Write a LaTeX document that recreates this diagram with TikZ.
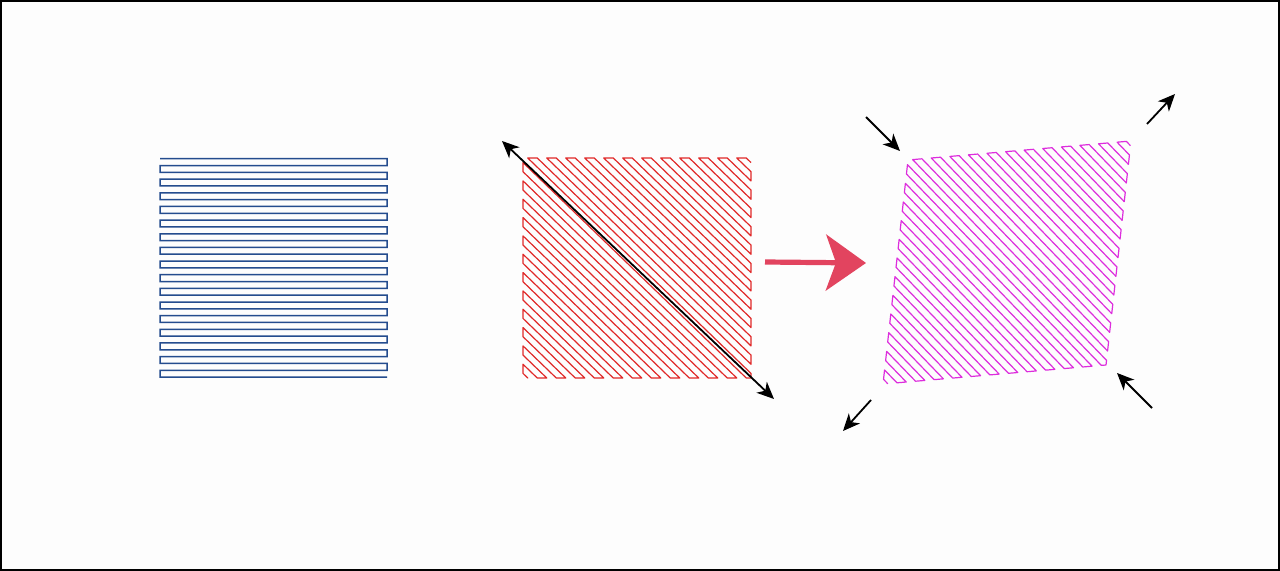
\documentclass[tikz,border=0pt]{standalone}
\usetikzlibrary{arrows.meta}
\definecolor{bgc}{HTML}{FDFDFD}
\definecolor{serpblue}{HTML}{244C8E}
\definecolor{hatchredc}{HTML}{E02828}
\definecolor{hatchmagc}{HTML}{DD2EDD}
\definecolor{bigarrowc}{HTML}{E2445F}
\newcommand\serphatch[1]{%
  \draw[#1] (0.5/24,1)
   \foreach \j [evaluate=\j as \ca using (2*\j+0.5)/24, evaluate=\j as \cb using (2*\j+1.5)/24] in {-12,...,-1}
    { -- ({min(1,1+(\ca))},{min(1,1-(\ca))}) -- ({max(\ca,0)},{max(-1*(\ca),0)})
      -- ({max(\cb,0)},{max(-1*(\cb),0)}) -- ({min(1,1+(\cb))},{min(1,1-(\cb))}) }
   -- (1,1)
   \foreach \j [evaluate=\j as \ca using (2*\j+0.5)/24, evaluate=\j as \cb using (2*\j+1.5)/24] in {0,...,11}
    { -- ({min(1,1+(\ca))},{min(1,1-(\ca))}) -- ({max(\ca,0)},{max(-1*(\ca),0)})
      -- ({max(\cb,0)},{max(-1*(\cb),0)}) -- ({min(1,1+(\cb))},{min(1,1-(\cb))}) };
}
\tikzset{
  serpline/.style={draw=serpblue, line width=0.75pt, line join=miter},
  hatchred/.style={draw=hatchredc, line width=0.6pt, line join=round},
  hatchmag/.style={draw=hatchmagc, line width=0.6pt, line join=round},
  blkarrow/.style={draw=black, line width=0.9pt, -{Stealth[length=8.5pt,width=7.5pt,inset=2.5pt]}},
  blkdouble/.style={draw=black, line width=0.9pt, {Stealth[length=8.5pt,width=7.5pt,inset=2.5pt]}-{Stealth[length=8.5pt,width=7.5pt,inset=2.5pt]}},
  bigarrow/.style={draw=bigarrowc, line width=2.6pt, -{Stealth[length=20pt,width=28pt,inset=5pt]}}
}
\begin{document}
\begin{tikzpicture}[x=0.5pt,y=-0.5pt]
  \useasboundingbox (0,0) rectangle (1280,571);
  \fill[bgc] (0,0) rectangle (1280,571);
  \draw[black, line width=1pt] (1,1) rectangle (1279,570);

  % blue serpentine
  \draw[serpline] (160,158.7)
    \foreach \i [evaluate=\i as \ya using 158.7+13.65*\i,
                 evaluate=\i as \yb using 158.7+13.65*\i+6.825,
                 evaluate=\i as \yc using 158.7+13.65*\i+13.65] in {0,...,15}
      { -- (387,\ya) -- (387,\yb) -- (160,\yb) -- (160,\yc) }
    -- (387,377.1);

  % red hatched square
  \begin{scope}[shift={(261.5pt,-79pt)}, x={(114pt,0pt)}, y={(0pt,-110pt)}]
    \serphatch{hatchred}
  \end{scope}

  % magenta transformed square
  \begin{scope}[shift={(454pt,-80pt)}, x={(111.5pt,9.5pt)}, y={(-12.5pt,-112pt)}]
    \serphatch{hatchmag}
  \end{scope}

  % diagonal double arrow
  \coordinate (dA) at (502,141);
  \coordinate (dB) at (774,399);
  \draw[blkdouble] (dA) -- (dB);

  % big red arrow
  \coordinate (bA) at (765,262);
  \coordinate (bB) at (866,263);
  \draw[bigarrow] (bA) -- (bB);

  % deformation arrows
  \coordinate (tlA) at (866,117);  \coordinate (tlB) at (900,151);
  \coordinate (trA) at (1147,124); \coordinate (trB) at (1175,94);
  \coordinate (blA) at (871,400);  \coordinate (blB) at (843,431);
  \coordinate (brA) at (1152,408); \coordinate (brB) at (1117,373);
  \draw[blkarrow] (tlA) -- (tlB);
  \draw[blkarrow] (trA) -- (trB);
  \draw[blkarrow] (blA) -- (blB);
  \draw[blkarrow] (brA) -- (brB);
\end{tikzpicture}
\end{document}
